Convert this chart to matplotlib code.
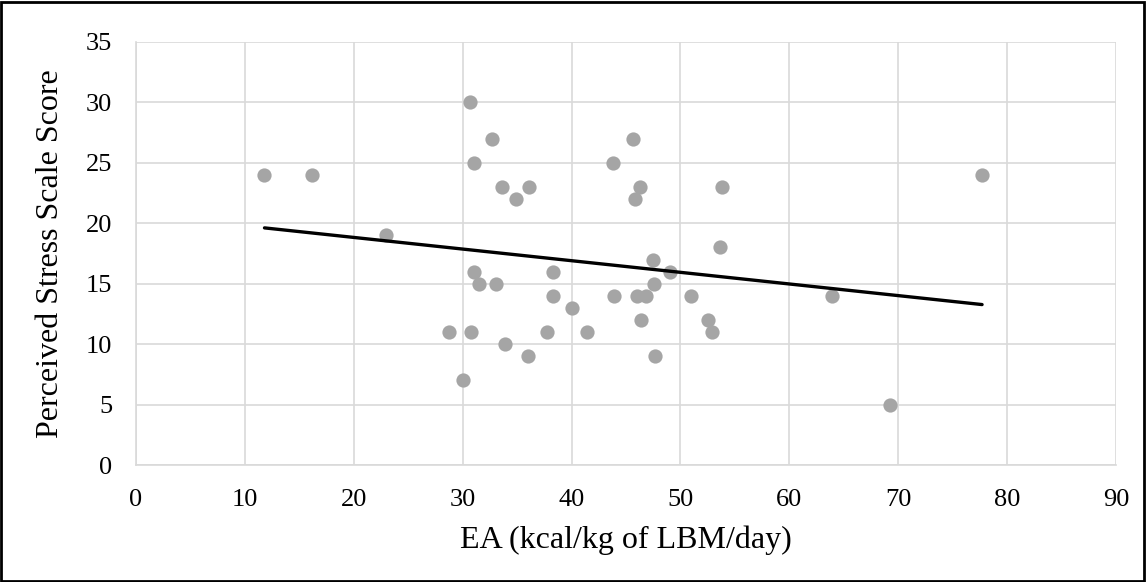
#!/usr/bin/env python3
"""
Scatter of perceived stress score against energy availability, with linear trendline.
"""

import matplotlib
matplotlib.use('Agg')
import matplotlib.pyplot as plt
import numpy as np
from matplotlib.patches import Rectangle

# EA (kcal/kg of LBM/day) and Perceived Stress Scale Score
ea = [11.8, 16.2, 23.0, 30.7, 32.7, 31.0, 33.6, 34.9, 36.1, 31.0,
      31.5, 33.1, 38.3, 38.3, 40.0, 43.9, 28.7, 30.8, 33.9, 36.0,
      37.7, 41.4, 30.0, 43.8, 45.6, 46.3, 45.8, 53.8, 53.6, 47.5,
      49.0, 47.6, 46.0, 46.8, 51.0, 46.4, 52.5, 52.9, 47.7, 63.9,
      69.2, 77.7]
pss = [24, 24, 19, 30, 27, 25, 23, 22, 23, 16,
       15, 15, 16, 14, 13, 14, 11, 11, 10, 9,
       11, 11, 7, 25, 27, 23, 22, 23, 18, 17,
       16, 15, 14, 14, 14, 12, 12, 11, 9, 14,
       5, 24]

x_ticks = [0, 10, 20, 30, 40, 50, 60, 70, 80, 90]
y_ticks = [0, 5, 10, 15, 20, 25, 30, 35]

plt.rcParams['font.family'] = ['Liberation Serif', 'DejaVu Serif']

fig = plt.figure(figsize=(11.46, 5.82), dpi=100)
ax = fig.add_axes([136 / 1146, 1 - 465 / 582, (1116 - 136) / 1146, (465 - 42) / 582])

ax.scatter(ea, pss, s=105, color='#a5a5a5', zorder=3, linewidths=0)

# linear trendline over the data range
slope, intercept = np.polyfit(ea, pss, 1)
xs = np.array([min(ea), max(ea)])
ax.plot(xs, slope * xs + intercept, color='black', linewidth=2.4, zorder=4,
        solid_capstyle='round')

ax.set_xlim(0, 90)
ax.set_ylim(0, 35)
ax.set_xticks(x_ticks)
ax.set_yticks(y_ticks)
ax.tick_params(length=0, labelsize=19, colors='black')
ax.tick_params(axis='x', pad=17)
ax.tick_params(axis='y', pad=17)
ax.grid(True, color='#d9d9d9', linewidth=1.2, zorder=0)
for side in ['top', 'right']:
    ax.spines[side].set_visible(False)
for side in ['left', 'bottom']:
    ax.spines[side].set_color('#d9d9d9')
    ax.spines[side].set_linewidth(1.2)

ax.set_xlabel('EA (kcal/kg of LBM/day)', fontsize=23, labelpad=11)
ax.set_ylabel('Perceived Stress Scale Score', fontsize=23, labelpad=15)

# outer black frame
fig.patches.append(Rectangle((0.001, 0.002), 0.997, 0.995, transform=fig.transFigure,
                             fill=False, edgecolor='black', linewidth=2))

plt.savefig('out.png', dpi=100)
plt.close()
